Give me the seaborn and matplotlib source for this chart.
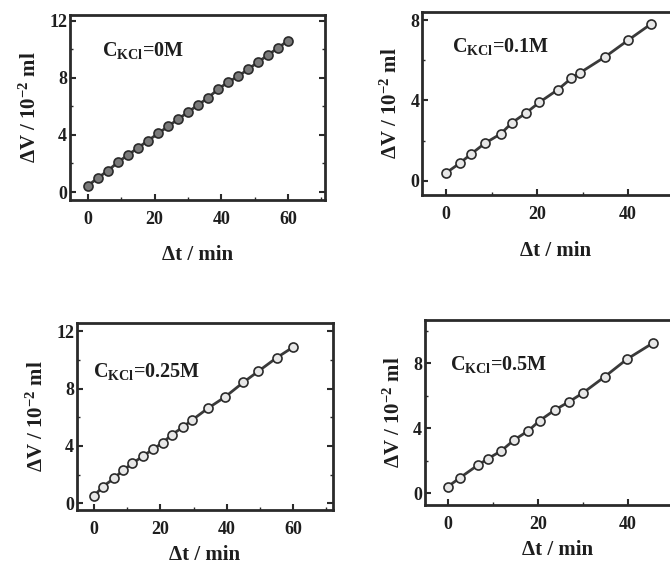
import matplotlib
matplotlib.use("Agg")
import matplotlib.pyplot as plt
from matplotlib.ticker import MultipleLocator
import seaborn as sns
import pandas as pd

sns.set_theme(style="white")
plt.rcParams['font.family'] = ['Liberation Serif', 'DejaVu Serif']
plt.rcParams['font.weight'] = 'bold'
plt.rcParams['mathtext.fontset'] = 'custom'
plt.rcParams['mathtext.rm'] = 'Liberation Serif:bold'
plt.rcParams['mathtext.bf'] = 'Liberation Serif:bold'
plt.rcParams['mathtext.it'] = 'Liberation Serif:bold'

# ---- data ----
t_0M = [0, 3, 6, 9, 12, 15, 18, 21, 24, 27, 30, 33, 36, 39, 42, 45, 48, 51, 54, 57, 60]
v_0M = [0.45, 1.0, 1.5, 2.1, 2.6, 3.1, 3.6, 4.1, 4.6, 5.1, 5.6, 6.1, 6.6, 7.2, 7.7, 8.1, 8.6, 9.1, 9.6, 10.1, 10.6]

t_01M = [0, 3, 5.5, 8.5, 12, 14.5, 17.5, 20.5, 24.5, 27.5, 29.5, 35, 40, 45]
v_01M = [0.4, 0.88, 1.34, 1.87, 2.34, 2.9, 3.37, 3.91, 4.53, 5.1, 5.39, 6.18, 7.0, 7.8]

t_025M = [0, 2.6, 6, 8.8, 11.6, 14.8, 17.8, 20.7, 23.4, 26.7, 29.4, 34.4, 39.5, 45, 49.5, 55, 60]
v_025M = [0.5, 1.15, 1.73, 2.32, 2.78, 3.3, 3.77, 4.23, 4.77, 5.3, 5.78, 6.64, 7.42, 8.44, 9.21, 10.15, 10.9]

t_05M = [0, 2.7, 6.7, 8.8, 11.9, 14.7, 17.9, 20.4, 23.8, 27, 30.1, 34.9, 39.8, 45.5]
v_05M = [0.41, 0.96, 1.74, 2.11, 2.62, 3.28, 3.85, 4.47, 5.13, 5.64, 6.19, 7.18, 8.25, 9.23]

labels = ["C$_{KCl}$=0M", "C$_{KCl}$=0.1M", "C$_{KCl}$=0.25M", "C$_{KCl}$=0.5M"]

panels = [
    dict(t=t_0M, v=v_0M, pos=[0.1045, 0.6466, 0.3806, 0.3269], xlim=(-5.4, 71.1), ylim=(-0.56, 12.4),
         xt=[0, 20, 40, 60], yt=[0, 4, 8, 12], txt=(0.125, 0.81), fill='#7a7a7a', lp=12),
    dict(t=t_01M, v=v_01M, pos=[0.6299, 0.6555, 0.40, 0.3233], xlim=(-5.3, 53.6), ylim=(-0.7, 8.4),
         xt=[0, 20, 40], yt=[0, 4, 8], txt=(0.112, 0.81), fill='#e8e8e8', lp=13),
    dict(t=t_025M, v=v_025M, pos=[0.1149, 0.0989, 0.3821, 0.3304], xlim=(-5.1, 72.0), ylim=(-0.47, 12.58),
         xt=[0, 20, 40, 60], yt=[0, 4, 8, 12], txt=(0.0625, 0.74), fill='#e8e8e8', lp=5),
    dict(t=t_05M, v=v_05M, pos=[0.6343, 0.1078, 0.3955, 0.3269], xlim=(-5.1, 53.8), ylim=(-0.72, 10.66),
         xt=[0, 20, 40], yt=[0, 4, 8], txt=(0.094, 0.757), fill='#e8e8e8', lp=5),
]

fig = plt.figure(figsize=(6.7, 5.66), dpi=100)
ink = '#2a2a2a'
for p, lab in zip(panels, labels):
    ax = fig.add_axes(p['pos'])
    df = pd.DataFrame({'t': p['t'], 'v': p['v']})
    sns.lineplot(data=df, x='t', y='v', ax=ax, color='#3a3a3a', lw=2.0,
                 marker='o', markersize=6.5, markerfacecolor=p['fill'],
                 markeredgecolor='#2a2a2a', markeredgewidth=1.2)
    ax.set_xlim(*p['xlim'])
    ax.set_ylim(*p['ylim'])
    ax.set_xticks(p['xt'])
    ax.set_yticks(p['yt'])
    ax.xaxis.set_minor_locator(MultipleLocator(10))
    ax.yaxis.set_minor_locator(MultipleLocator(2))
    ax.tick_params(which='both', direction='in', colors=ink, labelsize=13,
                   right=True, left=True, bottom=True, top=False)
    ax.tick_params(which='major', length=4, width=1.5)
    ax.tick_params(which='minor', length=2.5, width=1.0)
    for lbl in ax.get_xticklabels() + ax.get_yticklabels():
        lbl.set_fontweight('bold')
        lbl.set_color('#1e1e1e')
    ax.tick_params(axis='x', pad=8)
    ax.tick_params(axis='y', pad=2)
    for s in ax.spines.values():
        s.set_linewidth(2.0)
        s.set_color(ink)
        s.set_visible(True)
    ax.set_xlabel('Δt / min', fontsize=15, fontweight='bold', color='#1e1e1e', labelpad=p['lp'])
    ax.set_ylabel('ΔV / 10$^{-2}$ ml', fontsize=15, fontweight='bold', color='#1e1e1e', labelpad=6)
    ax.text(p['txt'][0], p['txt'][1], lab, transform=ax.transAxes, fontsize=14.5,
            fontweight='bold', color='#1e1e1e', va='center', ha='left')

fig.savefig('out.png', dpi=100)
